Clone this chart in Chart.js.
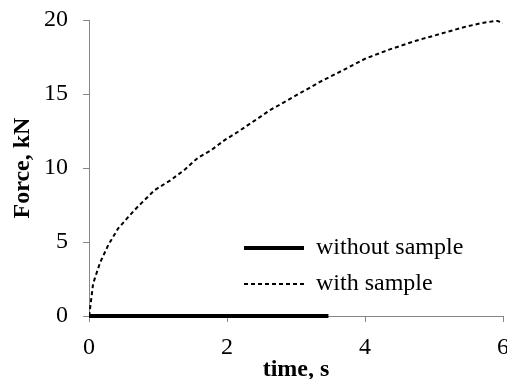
<!DOCTYPE html>
<html>
<head>
<meta charset="utf-8">
<script src="https://cdn.jsdelivr.net/npm/chart.js@4.4.0/dist/chart.umd.min.js"></script>
<style>
  html, body { margin: 0; padding: 0; background: #fff; overflow: hidden; }
  #wrap { position: relative; width: 520px; height: 379px; }
</style>
</head>
<body>
<div id="wrap"><canvas id="chart"></canvas></div>
<script>
// time (s) and force (kN)
const timeWith = [0, 0.01, 0.06, 0.16, 0.28, 0.42, 0.57, 0.71, 0.95, 1.19, 1.39, 1.58, 1.77, 1.97, 2.16, 2.40, 2.62, 3.0, 3.34, 3.72, 4.01, 4.35, 4.74, 5.12, 5.46, 5.70, 5.91, 6.0];
const forceWith = [0, 0.3, 2.2, 3.6, 4.8, 5.9, 6.7, 7.4, 8.5, 9.2, 9.9, 10.7, 11.2, 11.9, 12.45, 13.2, 13.9, 14.9, 15.8, 16.7, 17.4, 18.0, 18.6, 19.1, 19.55, 19.8, 19.95, 19.8];
const timeWithout = [0, 3.47];
const forceWithout = [0, 0];
const seriesNames = ['without sample', 'with sample'];

const toPoints = (xs, ys) => xs.map((x, i) => ({ x: x, y: ys[i] }));

const serif = 'Liberation Serif, Times New Roman, serif';
const axisGray = '#868686';

// put the legend inside the plot, lower right
const moveLegend = {
  id: 'moveLegend',
  afterLayout(chart) {
    const lg = chart.legend;
    const pad = lg.options.labels.padding;
    const w = lg.width;
    lg.left = 244 - pad;
    lg.right = lg.left + w;
    lg.top = 248 - 12 - pad;
    lg.bottom = lg.top + 200;
  }
};

new Chart(document.getElementById('chart'), {
  type: 'line',
  data: {
    datasets: [
      {
        label: seriesNames[0],
        data: toPoints(timeWithout, forceWithout),
        borderColor: '#000',
        backgroundColor: '#000',
        borderWidth: 4,
        pointRadius: 0,
        pointStyle: 'line',
        tension: 0,
        clip: false
      },
      {
        label: seriesNames[1],
        data: toPoints(timeWith, forceWith),
        borderColor: '#000',
        backgroundColor: '#000',
        borderWidth: 2,
        borderDash: [4, 3],
        pointRadius: 0,
        pointStyle: 'line',
        tension: 0
      }
    ]
  },
  options: {
    responsive: true,
    maintainAspectRatio: false,
    animation: false,
    layout: { padding: { top: 20, right: 16, left: 0, bottom: 0 } },
    plugins: {
      tooltip: { enabled: false },
      legend: {
        position: 'chartArea',
        align: 'start',
        labels: {
          usePointStyle: true,
          pointStyleWidth: 60,
          padding: 12,
          color: '#000',
          font: { family: serif, size: 24 },
          generateLabels(chart) {
            const items = Chart.defaults.plugins.legend.labels.generateLabels(chart);
            items.forEach(item => {
              const ds = chart.data.datasets[item.datasetIndex];
              item.lineDash = ds.borderDash || [];
              item.lineWidth = ds.borderWidth;
            });
            return items;
          }
        }
      }
    },
    scales: {
      x: {
        type: 'linear',
        min: 0,
        max: 6,
        ticks: { stepSize: 2, padding: 11, color: '#000', font: { family: serif, size: 24 } },
        grid: { display: true, drawOnChartArea: false, drawTicks: true, tickLength: 6, color: axisGray },
        border: { display: true, color: axisGray, width: 1 },
        title: { display: true, text: 'time, s', color: '#000', padding: 0, font: { family: serif, size: 24, weight: 'bold', lineHeight: 0.8 } },
        afterFit(scale) { scale.height = 63; }
      },
      y: {
        min: 0,
        max: 20,
        ticks: { stepSize: 5, padding: 15, color: '#000', font: { family: serif, size: 24 } },
        grid: { display: true, drawOnChartArea: false, drawTicks: true, tickLength: 6, color: axisGray },
        border: { display: true, color: axisGray, width: 1 },
        title: { display: true, text: 'Force, kN', color: '#000', padding: { top: 8, bottom: 0 }, font: { family: serif, size: 24, weight: 'bold' } },
        afterFit(scale) {
          scale.width = 89;
          scale.paddingTop = 10;
          scale.paddingBottom = 10;
        }
      }
    }
  },
  plugins: [moveLegend]
});
</script>
</body>
</html>
